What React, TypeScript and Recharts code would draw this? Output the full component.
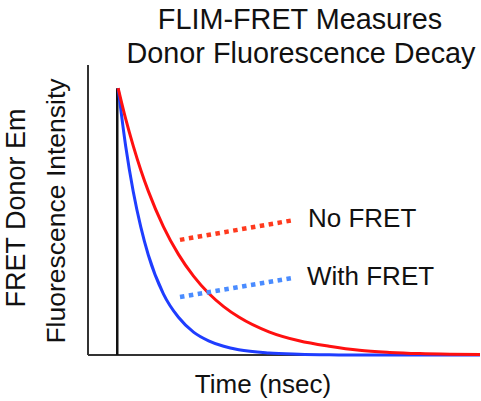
import React from "react";
import { LineChart, Line, XAxis, YAxis, ReferenceLine } from "recharts";

// time in nsec, intensity in arbitrary units (0..100)
const times = [1, 1.25, 1.5, 1.75, 2, 2.5, 3, 3.5, 4, 4.5, 5, 6, 7, 8, 9, 10, 11, 12, 13];
const noFret = [92, 81.4, 72.1, 63.8, 56.5, 44.3, 34.7, 27.2, 21.3, 16.7, 13.1, 8.0, 4.9, 3.0, 1.6, 0.9, 0.5, 0.3, 0.2];
const withFret = [92, 72, 56.4, 44.2, 34.5, 21.1, 13, 7.9, 4.9, 3.0, 1.8, 0.7, 0.3, 0.1, 0, 0, 0, 0, 0];

const pulseTime = 1;
const pulsePeak = 92;

// dotted pointer segments [t, v]
const noFretPointer = [[3.05, 39.7], [6.87, 46.6]];
const withFretPointer = [[3.05, 20], [6.8, 26.6]];

const data = times.map((t, i) => ({ t, noFret: noFret[i], withFret: withFret[i] }));

const FONT = "'Liberation Sans', Arial, Helvetica, sans-serif";
const W = 481;
const H = 401;

const seg = (p: number[][]) => p.map(([x, y]) => ({ x, y }));

export default function App() {
  return (
    <div style={{ position: "absolute", left: 0, top: 0, width: W, height: H, background: "#fff" }}>
      <LineChart width={W} height={H} data={data} margin={{ top: 65, right: 1, bottom: 46, left: 88 }}>
        <XAxis dataKey="t" type="number" domain={[0, 13]} hide />
        <YAxis type="number" domain={[0, 100]} hide />
        {/* axes */}
        <ReferenceLine y={0} stroke="#333" strokeWidth={2} ifOverflow="visible" />
        <ReferenceLine x={0} stroke="#333" strokeWidth={2} ifOverflow="visible" />
        <ReferenceLine
          segment={[{ x: pulseTime - 0.03, y: 0 }, { x: pulseTime - 0.03, y: pulsePeak }]}
          stroke="#111"
          strokeWidth={2.5}
          ifOverflow="visible"
        />
        <Line
          dataKey="withFret"
          type="monotone"
          stroke="#1f3dff"
          strokeWidth={3}
          dot={false}
          isAnimationActive={false}
        />
        <Line
          dataKey="noFret"
          type="monotone"
          stroke="#ff1010"
          strokeWidth={3}
          dot={false}
          isAnimationActive={false}
        />
        <ReferenceLine
          segment={seg(noFretPointer)}
          stroke="#ff3a1e"
          strokeWidth={4.5}
          strokeDasharray="4.5 4.5"
          ifOverflow="visible"
        />
        <ReferenceLine
          segment={seg(withFretPointer)}
          stroke="#4a8cff"
          strokeWidth={4.5}
          strokeDasharray="4.5 4.5"
          ifOverflow="visible"
        />
      </LineChart>
      <svg
        width={W}
        height={H}
        style={{ position: "absolute", left: 0, top: 0, pointerEvents: "none" }}
        fontFamily={FONT}
        fill="#111"
      >
        <text x={300} y={29} fontSize={28.8} textAnchor="middle">FLIM-FRET Measures</text>
        <text x={301} y={63} fontSize={28.8} textAnchor="middle">Donor Fluorescence Decay</text>
        <text x={25} y={208} fontSize={27} textAnchor="middle" transform="rotate(-90 25 208)">FRET Donor Em</text>
        <text x={65} y={211} fontSize={26.5} textAnchor="middle" transform="rotate(-90 65 211)">Fluorescence Intensity</text>
        <text x={263} y={393} fontSize={26} textAnchor="middle">Time (nsec)</text>
        <text x={308} y={227} fontSize={26}>No FRET</text>
        <text x={307} y={285} fontSize={26}>With FRET</text>
      </svg>
    </div>
  );
}
